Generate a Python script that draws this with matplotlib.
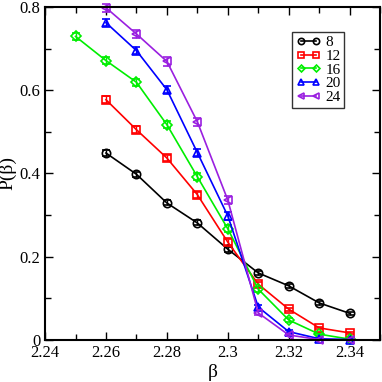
import matplotlib
matplotlib.use("Agg")
import matplotlib.pyplot as plt
from matplotlib.ticker import MultipleLocator, FixedLocator
from matplotlib.lines import Line2D

plt.rcParams['font.family'] = ['Liberation Serif', 'DejaVu Serif']

beta = [2.26, 2.27, 2.28, 2.29, 2.30, 2.31, 2.32, 2.33, 2.34]
beta16 = [2.25, 2.26, 2.27, 2.28, 2.29, 2.30, 2.31, 2.32, 2.33, 2.34]

p8 = [0.449, 0.398, 0.329, 0.281, 0.218, 0.161, 0.130, 0.089, 0.064]
e8 = [0.008, 0.006, 0.006, 0.006, 0.006, 0.005, 0.004, 0.004, 0.004]
p12 = [0.577, 0.505, 0.437, 0.349, 0.235, 0.134, 0.074, 0.029, 0.017]
e12 = [0.009, 0.008, 0.007, 0.007, 0.007, 0.006, 0.004, 0.003, 0.003]
p16 = [0.729, 0.671, 0.619, 0.517, 0.392, 0.267, 0.122, 0.048, 0.014, 0.002]
e16 = [0.008, 0.008, 0.008, 0.008, 0.008, 0.008, 0.006, 0.004, 0.002, 0.001]
p20 = [0.762, 0.695, 0.601, 0.450, 0.298, 0.079, 0.020, 0.003, 0.001]
e20 = [0.009, 0.009, 0.009, 0.009, 0.009, 0.006, 0.003, 0.001, 0.001]
p24 = [0.798, 0.735, 0.669, 0.524, 0.336, 0.065, 0.012, 0.001, 0.0]
e24 = [0.010, 0.010, 0.010, 0.010, 0.010, 0.006, 0.003, 0.001, 0.001]

labels = ['8', '12', '16', '20', '24']
colors = ['black', '#ff0000', '#00ee00', '#0000ff', '#9a1fe0']
markers = ['o', 's', 'D', '^', '<']
xs = [beta, beta, beta16, beta, beta]
ys = [p8, p12, p16, p20, p24]
es = [e8, e12, e16, e20, e24]

xticks = [2.24, 2.26, 2.28, 2.30, 2.32, 2.34]
xticklabels = ['2.24', '2.26', '2.28', '2.3', '2.32', '2.34']
yticks = [0, 0.2, 0.4, 0.6, 0.8]
yticklabels = ['0', '0.2', '0.4', '0.6', '0.8']

fig = plt.figure(figsize=(3.82, 3.82), dpi=100)
ax = fig.add_axes([0.118, 0.110, 0.877, 0.872])

handles = []
for x, y, e, c, m, lab in zip(xs, ys, es, colors, markers, labels):
    ms = 6 if m != 'D' else 5
    ax.errorbar(x, y, yerr=e, color=c, marker=m, ms=ms, mfc='none', mec=c,
                mew=1.2, lw=1.2, capsize=3, elinewidth=1.0, capthick=1.0,
                clip_on=False)
    handles.append(Line2D([], [], color=c, marker=m, ms=ms - 1.5, mfc='none',
                          mec=c, mew=1.2, lw=1.2, label=lab))

ax.set_xlim(2.24, 2.35)
ax.set_ylim(0, 0.8)
ax.xaxis.set_major_locator(FixedLocator(xticks))
ax.xaxis.set_minor_locator(MultipleLocator(0.01))
ax.yaxis.set_major_locator(FixedLocator(yticks))
ax.yaxis.set_minor_locator(MultipleLocator(0.1))
ax.set_xticklabels(xticklabels)
ax.set_yticklabels(yticklabels)
ax.tick_params(which='both', direction='in', top=True, right=True,
               labelsize=12, width=1.0)
ax.tick_params(which='major', length=6)
ax.tick_params(which='minor', length=4)
for s in ax.spines.values():
    s.set_linewidth(1.5)

ax.set_xlabel('β', fontsize=14, labelpad=2)
ax.set_ylabel('P(β)', fontsize=14, labelpad=2)

leg = ax.legend(handles=handles, loc='upper right', bbox_to_anchor=(0.893, 0.925),
                numpoints=2, fontsize=11, frameon=True, fancybox=False,
                edgecolor='black', handlelength=1.6, handletextpad=0.3,
                borderpad=0.25, labelspacing=0.0, borderaxespad=0)
leg.get_frame().set_linewidth(1.0)

fig.savefig('out.png', dpi=100)
